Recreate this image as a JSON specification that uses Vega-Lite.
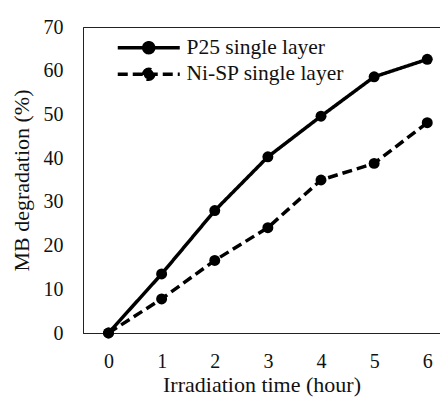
{
  "$schema": "https://vega.github.io/schema/vega-lite/v6.json",
  "width": 357,
  "height": 306,
  "autosize": {"type": "none"},
  "padding": {"left": 83, "top": 27, "right": 0, "bottom": 67},
  "background": "white",
  "config": {
    "font": "Liberation Serif",
    "view": {"stroke": "#222", "strokeWidth": 1},
    "axis": {
      "grid": false,
      "ticks": false,
      "domainColor": "#222",
      "labelFont": "Liberation Serif",
      "titleFont": "Liberation Serif",
      "labelFontSize": 20,
      "titleFontSize": 22,
      "labelColor": "#111",
      "titleColor": "#111",
      "titleFontWeight": "normal"
    }
  },
  "data": {
    "values": [
      {"time": 0, "deg": 0, "series": "P25 single layer"},
      {"time": 1, "deg": 13.5, "series": "P25 single layer"},
      {"time": 2, "deg": 28.0, "series": "P25 single layer"},
      {"time": 3, "deg": 40.3, "series": "P25 single layer"},
      {"time": 4, "deg": 49.6, "series": "P25 single layer"},
      {"time": 5, "deg": 58.6, "series": "P25 single layer"},
      {"time": 6, "deg": 62.6, "series": "P25 single layer"},
      {"time": 0, "deg": 0, "series": "Ni-SP single layer"},
      {"time": 1, "deg": 7.8, "series": "Ni-SP single layer"},
      {"time": 2, "deg": 16.6, "series": "Ni-SP single layer"},
      {"time": 3, "deg": 24.1, "series": "Ni-SP single layer"},
      {"time": 4, "deg": 35.0, "series": "Ni-SP single layer"},
      {"time": 5, "deg": 38.8, "series": "Ni-SP single layer"},
      {"time": 6, "deg": 48.1, "series": "Ni-SP single layer"}
    ]
  },
  "encoding": {
    "x": {
      "field": "time", "type": "quantitative",
      "scale": {"domain": [-0.48, 6.24], "nice": false, "zero": false},
      "axis": {"values": [0, 1, 2, 3, 4, 5, 6], "title": "Irradiation time (hour)", "labelPadding": 18, "titlePadding": 3}
    },
    "y": {
      "field": "deg", "type": "quantitative",
      "scale": {"domain": [0, 70], "nice": false},
      "axis": {"values": [0, 10, 20, 30, 40, 50, 60, 70], "title": "MB degradation (%)", "labelPadding": 20, "titlePadding": 10}
    }
  },
  "layer": [
    {
      "mark": {"type": "line", "color": "black", "strokeWidth": 3.5},
      "encoding": {
        "strokeDash": {
          "field": "series", "type": "nominal",
          "scale": {"domain": ["P25 single layer", "Ni-SP single layer"], "range": [[1, 0], [10, 5]]},
          "legend": {
            "title": null,
            "orient": "none",
            "legendX": 55,
            "legendY": 10,
            "padding": 0,
            "labelFont": "Liberation Serif",
            "labelFontSize": 21.5,
            "labelColor": "#111",
            "symbolType": "M-31,0L31,0M-5,0A5,5,0,1,1,5,0A5,5,0,1,1,-5,0Z",
            "symbolSize": 4,
            "symbolStrokeWidth": 3.5,
            "symbolStrokeColor": "black",
            "symbolFillColor": "black",
            "labelOffset": 27,
            "rowPadding": 1.5
          }
        }
      }
    },
    {
      "mark": {"type": "point", "filled": true, "color": "black", "opacity": 1, "size": 120}
    }
  ]
}
